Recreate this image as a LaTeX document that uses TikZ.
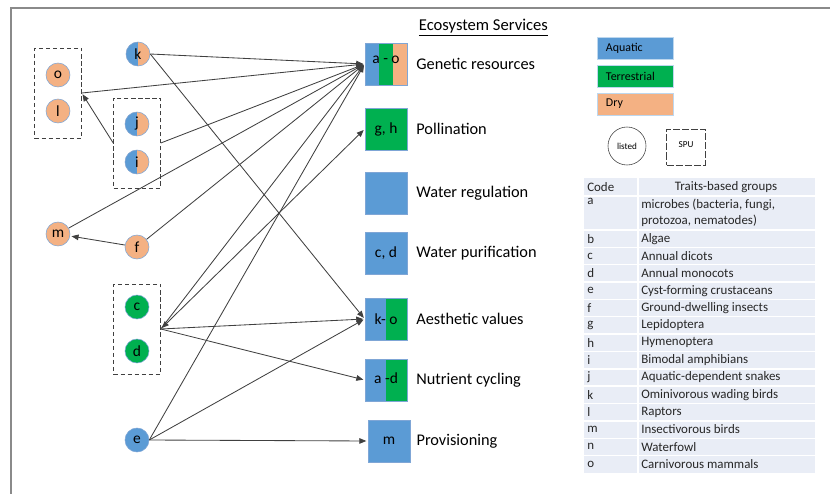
\documentclass[tikz,border=0pt]{standalone}
\usepackage{fontspec}
\setmainfont{Carlito}
\usetikzlibrary{arrows.meta,calc,fit,positioning}
\definecolor{aqua}{HTML}{5B9BD5}
\definecolor{terr}{HTML}{00B050}
\definecolor{dry}{HTML}{F4B183}
\definecolor{rim}{HTML}{7FA6D6}
\definecolor{tabbg}{HTML}{E9EDF6}
\definecolor{framegray}{HTML}{8A8A8A}

\begin{document}
\begin{tikzpicture}[x=0.025cm,y=-0.025cm,>={Triangle[length=5pt,width=4pt]},font=\fontsize{11}{13}\selectfont]
  \tikzstyle{dry node}=[circle,draw=rim,fill=dry,minimum size=0.6cm,inner sep=0]
  \tikzstyle{terr node}=[dry node,fill=terr]
  \tikzstyle{aqua node}=[dry node,fill=aqua]
  \tikzstyle{half node}=[dry node,path picture={\fill[aqua] (path picture bounding box.south west) rectangle (path picture bounding box.north);}]
  \tikzstyle{spu box}=[draw=black!75,densely dashed,inner xsep=0.28cm]
  \tikzstyle{es box}=[draw=rim,fill=aqua,minimum size=1.05cm,inner sep=0]
  \tikzstyle{two tone}=[path picture={\fill[terr] ($(path picture bounding box.south west)!0.5!(path picture bounding box.south east)$) rectangle (path picture bounding box.north east);}]
  \tikzstyle{three tone}=[path picture={
      \fill[terr] ($(path picture bounding box.south west)!0.333!(path picture bounding box.south east)$) rectangle ($(path picture bounding box.north west)!0.667!(path picture bounding box.north east)$);
      \fill[dry] ($(path picture bounding box.north west)!0.667!(path picture bounding box.north east)$) rectangle (path picture bounding box.south east);}]
  \tikzstyle{es label}=[anchor=west,inner sep=0,font=\fontsize{11.6}{13}\selectfont]
  \tikzstyle{link}=[draw=black!75,line width=0.6pt,shorten >=1pt]
  \tikzstyle{legend box}=[draw=aqua!40,minimum height=0.55cm,inner xsep=0.225cm,text width=1.45cm,align=left,font=\fontsize{8.5}{10}\selectfont]
  \tikzstyle{tab text}=[inner sep=0,text=black!85,font=\fontsize{9.2}{11}\selectfont]
  \useasboundingbox (0,0) rectangle (830,494);
  \draw[framegray,line width=1.4pt] (11,494) -- (11,8) -- (830,8);

  % trait groups
  \node[dry node] (o) at (58,75) {o};
  \node[dry node] (l) at (58,111) {l};
  \node[half node] (k) at (138,54) {k};
  \node[half node] (j) at (137,124) {j};
  \node[half node] (i) at (137,162) {i};
  \node[dry node] (m) at (58,234) {m};
  \node[dry node] (f) at (137,247) {f};
  \node[terr node] (c) at (137,307) {c};
  \node[terr node] (d) at (137,351) {d};
  \node[aqua node] (e) at (137,440) {e};
  \node[spu box,inner ysep=0.37cm,fit=(o)(l)] (ol) {};
  \node[spu box,inner ysep=0.34cm,fit=(j)(i)] (ji) {};
  \node[spu box,inner ysep=0.27cm,fit=(c)(d)] (cd) {};

  % ecosystem services
  \node[anchor=west,font=\fontsize{11.8}{13}\selectfont] (title) at (414,28) {\underline{Ecosystem Services}};
  \node[es box,three tone] (gen) at (386,64) {\raisebox{6pt}{a - o}};
  \node[es box,fill=terr] (poll) at (386,129) {g, h};
  \node[es box] (wreg) at (386,193) {};
  \node[es box] (wpur) at (386,253) {c, d};
  \node[es box,two tone] (aes) at (386,319) {k- o};
  \node[es box,two tone] (nut) at (386,380) {\raisebox{2pt}{a -d}};
  \node[es box] (prov) at (389,441) {m};
  \node[es label,right=0.22cm of gen] (genl) {Genetic resources};
  \node[es label,right=0.22cm of poll] (polll) {Pollination};
  \node[es label,right=0.22cm of wreg] (wregl) {Water regulation};
  \node[es label,right=0.22cm of wpur] (wpurl) {Water purification};
  \node[es label,right=0.22cm of aes] (aesl) {Aesthetic values};
  \node[es label,right=0.22cm of nut] (nutl) {Nutrient cycling};
  \node[es label,right=0.15cm of prov] (provl) {Provisioning};

  % links
  \draw[link,->] (k.east) -- (gen.west);
  \draw[link,->] (k.east) -- (aes.west);
  \draw[link,->] (ol.east) -- (gen.west);
  \draw[link,->] (ji.west) -- (ol.east);
  \draw[link,->] (ji.east) -- (gen.west);
  \draw[link,->] (m) -- (gen.west);
  \draw[link,->] (f) -- (m);
  \draw[link,->] (f) -- (gen.west);
  \draw[link,->] (cd.east) -- (gen.west);
  \draw[link,<->,shorten <=1pt] (cd.east) -- (poll.west);
  \draw[link,->] (cd.east) -- (aes.west);
  \draw[link,->] (cd.east) -- (nut.west);
  \draw[link,->] (e.east) -- (gen.west);
  \draw[link,->] (e.east) -- (aes.west);
  \draw[link,->] (e.east) -- (prov.west);

  % legend
  \node[legend box,fill=aqua] (aquatic) at (635,48) {Aquatic};
  \node[legend box,fill=terr] (terrestrial) at (635,76) {Terrestrial};
  \node[legend box,fill=dry] (drylg) at (635,104) {Dry};
  \node[circle,draw=black!75,minimum size=0.95cm,inner sep=0,font=\fontsize{6.5}{7}\selectfont] (listed) at (627,146) {listed};
  \node[draw=black!75,dash pattern=on 5pt off 1.5pt,minimum width=0.97cm,minimum height=0.9cm,inner sep=0,font=\fontsize{6.5}{7}\selectfont] (spu) at (686,147) {\raisebox{3pt}{SPU}};

  % table
  \fill[tabbg] (584,178) rectangle (815,473);
  \foreach \y in {196,230,247.3,264.7,282,299.4,316.7,334,351.4,368.8,386.1,403.4,420.8,438.2,455.5}
    \draw[white,line width=1pt] (584,\y) -- (815,\y);
  \draw[white,line width=1pt] (638,178) -- (638,473);
  \node[tab text,anchor=west] (codeh) at (587,187) {Code};
  \node[tab text] (grouph) at (726,187) {Traits-based groups};
  \node[tab text,anchor=north west] (codea) at (587,198) {a};
  \node[tab text,anchor=north west,align=left] (groupa) at (641,199) {microbes (bacteria, fungi,\\protozoa, nematodes)};
  \foreach \c/\t [count=\n from 0] in {b/Algae,c/Annual dicots,d/Annual monocots,e/Cyst-forming crustaceans,f/Ground-dwelling insects,g/Lepidoptera,h/Hymenoptera,i/Bimodal amphibians,j/Aquatic-dependent snakes,k/Ominivorous wading birds,l/Raptors,m/Insectivorous birds,n/Waterfowl,o/Carnivorous mammals}{
    \node[tab text,anchor=west] (code\c) at (587,238.7+17.34*\n) {\c};
    \node[tab text,anchor=west] (group\c) at (641,238.7+17.34*\n) {\t};
  }
\end{tikzpicture}
\end{document}
